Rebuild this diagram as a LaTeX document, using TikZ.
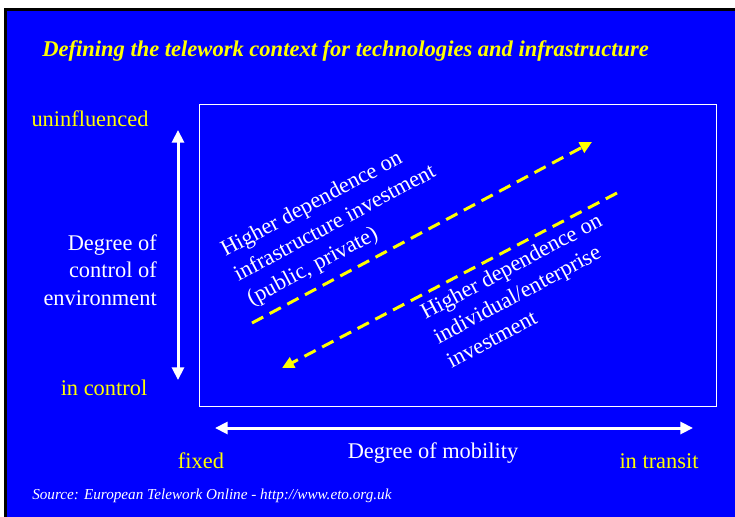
\documentclass[tikz,border=0pt]{standalone}
\usepackage{fontspec}
\setmainfont{Liberation Serif}
\usepackage{tikz}
\usetikzlibrary{arrows.meta}
\definecolor{slideblue}{RGB}{0,0,255}
\definecolor{slideyellow}{RGB}{255,255,0}
\tikzset{
  axisarrow/.style={draw=white, line width=2.25pt, {Triangle[width=9pt,length=9.5pt]}-{Triangle[width=9pt,length=9.5pt]}},
  trendarrow/.style={draw=slideyellow, line width=2.25pt, dash pattern=on 9.5pt off 5.5pt, -{Triangle[width=8.5pt,length=9pt]}},
  bigtext/.style={font=\fontsize{16.8}{20.8}\selectfont, inner sep=0pt},
}

\begin{document}
\begin{tikzpicture}[x=0.75pt,y=0.75pt,yscale=-1,xscale=1]
\useasboundingbox (0,0) rectangle (735,517);

%Background
\fill [white] (0,0) rectangle (735,517);
\fill [black] (4,8) rectangle (735,517);
\fill [slideblue] (7,11) rectangle (735,517);

% Text Node
\node (title) [anchor=base west, inner sep=0pt, text=slideyellow, font=\fontsize{16.9}{20}\selectfont\bfseries\itshape] at (42,57) {Defining the telework context for technologies and infrastructure};

%Shape: Rectangle
\draw [white, line width=0.75pt] (199,104) rectangle (716,406);

%Straight Lines
\coordinate (ctrlTop) at (178,130);
\coordinate (ctrlBot) at (178,380);
\draw [axisarrow] (ctrlTop) -- (ctrlBot);
%Straight Lines
\coordinate (mobLeft) at (215,428);
\coordinate (mobRight) at (693,428);
\draw [axisarrow] (mobLeft) -- (mobRight);

%Straight Lines
\coordinate (infraStart) at (252,323);
\coordinate (infraEnd) at (592,142);
\draw [trendarrow] (infraStart) -- (infraEnd);
%Straight Lines
\coordinate (indivStart) at (617,193);
\coordinate (indivEnd) at (282,368);
\draw [trendarrow] (indivStart) -- (indivEnd);

% Text Node
\node (uninf) [bigtext, anchor=base, text=slideyellow] at (90,127) {uninfluenced};
% Text Node
\node (inctrl) [bigtext, anchor=base, text=slideyellow] at (104,395) {in control};
% Text Node
\node (ctrlLabel) [bigtext, anchor=north east, align=right, text=white] at (157,234) {Degree of\\control of\\environment};
% Text Node
\node (fixed) [bigtext, anchor=base, text=slideyellow] at (201,468) {fixed};
% Text Node
\node (transit) [bigtext, anchor=base, text=slideyellow] at (659,468) {in transit};
% Text Node
\node (mobLabel) [bigtext, anchor=base, text=white] at (433,458) {Degree of mobility};

% Text Node
\node (infraText) [bigtext, anchor=north west, align=left, rotate=28, text=white] at (218,243) {Higher dependence on\\infrastructure investment\\(public, private)};
% Text Node
\node (indivText) [bigtext, anchor=north west, align=left, rotate=28, text=white] at (418,306) {Higher dependence on\\individual/enterprise\\investment};

% Text Node
\node (source) [anchor=base west, inner sep=0pt, text=white, font=\fontsize{11.4}{13}\selectfont\itshape] at (32,499) {Source: European Telework Online - http://www.eto.org.uk};

\end{tikzpicture}
\end{document}
